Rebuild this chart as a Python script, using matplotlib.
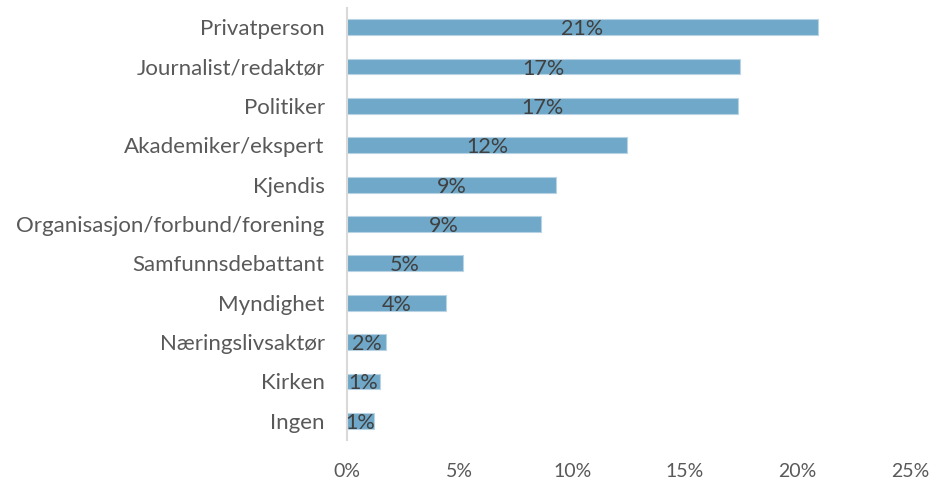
import matplotlib
matplotlib.use("Agg")
import matplotlib.pyplot as plt

# Categories from top to bottom
categories = [
    "Privatperson",
    "Journalist/redaktør",
    "Politiker",
    "Akademiker/ekspert",
    "Kjendis",
    "Organisasjon/forbund/forening",
    "Samfunnsdebattant",
    "Myndighet",
    "Næringslivsaktør",
    "Kirken",
    "Ingen",
]
shares = [20.9, 17.45, 17.35, 12.45, 9.3, 8.6, 5.15, 4.4, 1.75, 1.45, 1.2]
x_ticks = [0, 5, 10, 15, 20, 25]

plt.rcParams["font.family"] = ["Lato", "DejaVu Sans"]

fig = plt.figure(figsize=(9.37, 4.82), dpi=100)
ax = fig.add_axes([0.3703, 0.0861, 0.6009, 0.8983])

ypos = list(range(len(categories)))
ax.barh(ypos, shares, height=0.4, color="#6fa8c8",
        edgecolor="#b8d4e4", linewidth=0.8)

# data labels in the middle of each bar
for y, v in zip(ypos, shares):
    ax.text(v / 2, y + 0.05, f"{round(v):d}%", ha="center", va="center",
            fontsize=15.5, color="#404040")

ax.set_yticks(ypos)
ax.set_yticklabels(categories, fontsize=16, color="#595959")
ax.set_ylim(len(categories) - 0.5, -0.5)

ax.set_xlim(0, 25)
ax.set_xticks(x_ticks)
ax.set_xticklabels([f"{t}%" for t in x_ticks], fontsize=14, color="#595959")

for side in ["top", "right", "bottom"]:
    ax.spines[side].set_visible(False)
ax.spines["left"].set_color("#d9d9d9")
ax.spines["left"].set_linewidth(1.5)
ax.tick_params(axis="both", length=0)
ax.tick_params(axis="y", pad=16)
ax.tick_params(axis="x", pad=16)

fig.savefig("out.png", dpi=100)
